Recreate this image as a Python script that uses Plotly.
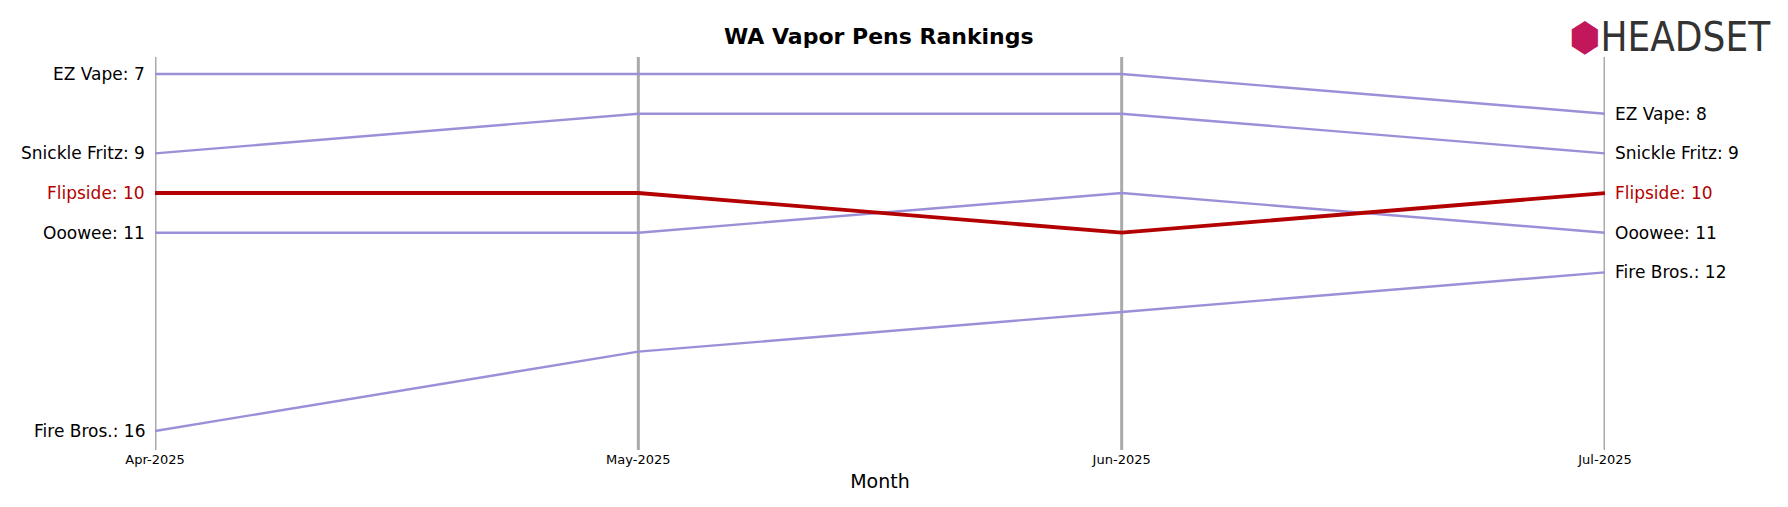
import plotly.graph_objects as go

months = ["Apr-2025", "May-2025", "Jun-2025", "Jul-2025"]
brands = ["EZ Vape", "Snickle Fritz", "Flipside", "Ooowee", "Fire Bros."]
ranks = {
    "EZ Vape": [7, 7, 7, 8],
    "Snickle Fritz": [9, 8, 8, 9],
    "Flipside": [10, 10, 11, 10],
    "Ooowee": [11, 11, 10, 11],
    "Fire Bros.": [16, 14, 13, 12],
}
highlight = "Flipside"

fig = go.Figure()
xs = list(range(len(months)))
for b in brands:
    if b == highlight:
        continue
    fig.add_trace(go.Scatter(x=xs, y=ranks[b], mode="lines",
                             line=dict(color="#9b8fd8", width=2.4), showlegend=False))
fig.add_trace(go.Scatter(x=xs, y=ranks[highlight], mode="lines",
                         line=dict(color="#b30000", width=3.8), showlegend=False))

for b in brands:
    col = "#b30000" if b == highlight else "black"
    fig.add_annotation(x=0, y=ranks[b][0], text=f"{b}: {ranks[b][0]}", xanchor="right",
                       xshift=-8, showarrow=False, font=dict(size=17, color=col))
    fig.add_annotation(x=3, y=ranks[b][-1], text=f"{b}: {ranks[b][-1]}", xanchor="left",
                       xshift=8, showarrow=False, font=dict(size=17, color=col))

for i in xs:
    fig.add_shape(type="line", x0=i, x1=i, y0=0, y1=1, yref="paper",
                  line=dict(color="#aaaaaa", width=3), layer="below")

# title
fig.add_annotation(x=0.499, y=1.052, xref="paper", yref="paper", yanchor="middle",
                   text="<b>WA Vapor Pens Rankings</b>", showarrow=False,
                   font=dict(size=22, color="black", family="DejaVu Sans"))

# logo stand-in
fig.add_annotation(x=1.116, y=1.052, xref="paper", yref="paper", yanchor="middle", xanchor="right",
                   text="<span style='color:#c2185b'>⬢</span>HEADSET", showarrow=False,
                   font=dict(size=40, color="#333333", family="DejaVu Sans Condensed"))

fig.update_layout(
    width=1788, height=507, plot_bgcolor="white", paper_bgcolor="white",
    margin=dict(l=147, r=191, t=49, b=65),
    xaxis=dict(range=[0, 3], tickvals=xs, ticktext=months, showgrid=False, zeroline=False,
               tickfont=dict(size=13, color="black"),
               title=dict(text="Month", font=dict(size=19, color="black"), standoff=8)),
    yaxis=dict(range=[16.48, 6.57], visible=False),
    font=dict(family="DejaVu Sans"),
)
fig.write_html("out.html")
